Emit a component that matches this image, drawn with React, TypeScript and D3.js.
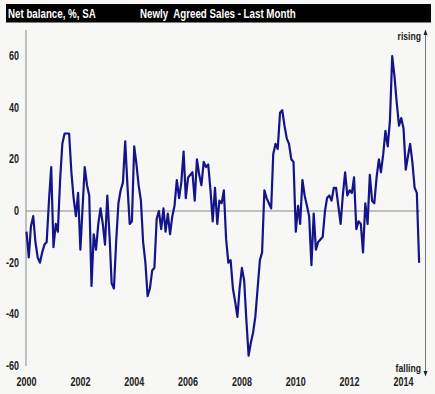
import * as d3 from "d3";

// monthly net balance, Jan 2000 onward
const values: number[] = [
  -8, -18, -6, -2, -12, -18, -20, -16, -13, -12, 4, 17,
  -14, -5, -8, 12, 26, 30, 30, 30, 15, 5, -2, 7,
  -15, 2, 17, 10, 6, -29, -9, -15, -5, 1, -5, -13,
  6, -10, -28, -30, -12, 3, 8, 11, 27, 10, -5, -4,
  25, 18, 10, 4, -12, -20, -33, -30, -23, -22, -3, 0,
  -7, 1, -8, -1, -9, -2, 2, 12, 5, 11, 23, 5,
  13, 14, 15, 4, 20, 14, 10, 19, 17, 18, 8, -4,
  9, -5, 4, 3, 8, -11, -20, -19, -30, -35, -41, -30,
  -22, -27, -42, -56, -51, -47, -41, -30, -19, -16, 8, 5,
  3, 1, 22, 26, 24, 38, 39, 33, 28, 26, 20, 19,
  -8, 2, -5, 12, 6, 2, -2, -21, -1, -15, -12, -11,
  -10, 0, 5, 6, 4, 9, 9, 2, -5, 6, 15, 6,
  8, 7, 13, -7, -4, -5, -16, 3, -5, 14, 4, 3,
  13, 20, 15, 22, 31, 25, 35, 60, 52, 42, 33, 36,
  32, 16, 21, 26, 19, 9, 7, -20,
];
const yTicks = [60, 40, 20, 0, -20, -40, -60];
const xTickYears = [2000, 2002, 2004, 2006, 2008, 2010, 2012, 2014];

const W = 435;
const H = 394;
const font = "'Liberation Sans Narrow', 'Arial Narrow', 'Liberation Sans', Arial, sans-serif";
const SQUEEZE = 0.75; // mimic a narrow face

function NText({
  x,
  y,
  anchor = "start",
  size = 12,
  fill = "#222",
  children,
}: {
  x: number;
  y: number;
  anchor?: "start" | "middle" | "end";
  size?: number;
  fill?: string;
  children: string | number;
}) {
  return (
    <text
      transform={`translate(${x},${y}) scale(${SQUEEZE},1)`}
      textAnchor={anchor}
      fontSize={size}
      fontWeight="bold"
      fill={fill}
      style={{ whiteSpace: "pre" }}
    >
      {children}
    </text>
  );
}

export default function App() {
  const data = values.map((v, i) => ({ date: new Date(2000, i, 1), v }));

  const x = d3
    .scaleTime()
    .domain([new Date(2000, 0, 1), new Date(2014, 0, 1)])
    .range([26.5, 403.5]);
  const y = d3.scaleLinear().domain([-60, 60]).range([366, 56]);

  const line = d3
    .line<{ date: Date; v: number }>()
    .x((d) => x(d.date))
    .y((d) => y(d.v));

  const axisX = 26;
  const rightX = 425.5;
  const lastX = x(data[data.length - 1].date);

  return (
    <svg
      width={W}
      height={H}
      style={{ position: "fixed", left: 0, top: 0 }}
      fontFamily={font}
    >
      <rect width={W} height={H} fill="#f7f7f5" />

      {/* header bar */}
      <rect x={6} y={4} width={425} height={18.5} fill="#000" />
      <NText x={8} y={17.5} size={13} fill="#fff">
        Net balance, %, SA
      </NText>
      <NText x={140} y={17.5} size={13} fill="#fff">
        {"Newly  Agreed Sales - Last Month"}
      </NText>

      {/* left axis */}
      <line x1={axisX} x2={axisX} y1={30} y2={366} stroke="#888" strokeWidth={1} />
      {yTicks.map((t) => (
        <NText key={t} x={19} y={y(t) + 4} anchor="end" size={12}>
          {t}
        </NText>
      ))}

      {/* zero line */}
      <line x1={axisX} x2={lastX + 1} y1={y(0)} y2={y(0)} stroke="#8a8a8a" strokeWidth={1.2} />

      {/* x tick labels */}
      {xTickYears.map((yr) => (
        <NText key={yr} x={x(new Date(yr, 0, 1))} y={386} anchor="middle" size={12}>
          {yr}
        </NText>
      ))}

      {/* right rising/falling axis */}
      <line x1={rightX} x2={rightX} y1={34} y2={372} stroke="#777" strokeWidth={1} />
      <path d={`M${rightX - 2},${35} L${rightX},${29.5} L${rightX + 2},${35} Z`} fill="#222" />
      <path d={`M${rightX - 2},${371} L${rightX},${376.5} L${rightX + 2},${371} Z`} fill="#222" />
      <NText x={421} y={40} anchor="end" size={11.5}>
        rising
      </NText>
      <NText x={421} y={372} anchor="end" size={11.5}>
        falling
      </NText>

      {/* series */}
      <path
        d={line(data) ?? ""}
        fill="none"
        stroke="#14148a"
        strokeWidth={2.2}
        strokeLinejoin="round"
      />
    </svg>
  );
}
